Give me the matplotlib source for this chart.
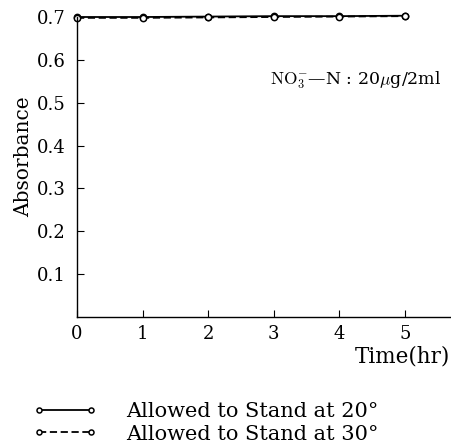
import matplotlib
matplotlib.use("Agg")
import matplotlib.pyplot as plt

plt.rcParams['font.family'] = ['DejaVu Serif']
plt.rcParams['mathtext.fontset'] = 'cm'

time_hr = [0, 1, 2, 3, 4, 5]
abs_20 = [0.700, 0.700, 0.701, 0.702, 0.702, 0.703]
abs_30 = [0.698, 0.698, 0.699, 0.700, 0.701, 0.702]
xticks = [0, 1, 2, 3, 4, 5]
yticks = [0.1, 0.2, 0.3, 0.4, 0.5, 0.6, 0.7]
labels = ["Allowed to Stand at 20°", "Allowed to Stand at 30°"]

fig = plt.figure(figsize=(4.51, 4.47), dpi=100)
ax = fig.add_axes([77/451, 1-317/447, 1-77/451, 300/447])

l1, = ax.plot(time_hr, abs_20, '-', color='black', lw=1.3, marker='o', ms=4.5,
              mfc='white', mec='black', mew=1.1, clip_on=False)
l2, = ax.plot(time_hr, abs_30, '--', color='black', lw=1.3, dashes=(4, 2), marker='o', ms=4.5,
              mfc='white', mec='black', mew=1.1, clip_on=False)

ax.set_xlim(0, 5.7)
ax.set_ylim(0, 0.7)
ax.set_xticks(xticks)
ax.set_xticklabels([str(v) for v in xticks])
ax.set_yticks(yticks)
ax.set_yticklabels([f"{v:.1f}" for v in yticks])
ax.spines['top'].set_visible(False)
ax.spines['right'].set_visible(False)
for s in ['left', 'bottom']:
    ax.spines[s].set_linewidth(1.0)
ax.tick_params(axis='both', direction='in', length=5, width=0.8, labelsize=13, colors='black')
ax.tick_params(axis='x', pad=6)
ax.tick_params(axis='y', pad=8)
ax.set_ylabel("Absorbance", fontsize=14.5)
ax.yaxis.set_label_coords(-0.118, 0.533)

ax.text(0.997, -0.133, "Time(hr)", fontsize=15.5, ha='right', va='center',
        transform=ax.transAxes, clip_on=False)
ax.text(0.975, 0.79, r"$\mathrm{NO_3^{-}}$—N : 20$\mu$g/2ml", fontsize=12.5, ha='right', va='center',
        transform=ax.transAxes)

fig.legend([l1, l2], labels, loc='upper left', bbox_to_anchor=(22/451, 1-392/447),
           frameon=False, fontsize=15, handlelength=3.1, handletextpad=1.4,
           labelspacing=0.15, borderpad=0, numpoints=2, markerscale=0.8)

fig.savefig("out.png", dpi=100)
